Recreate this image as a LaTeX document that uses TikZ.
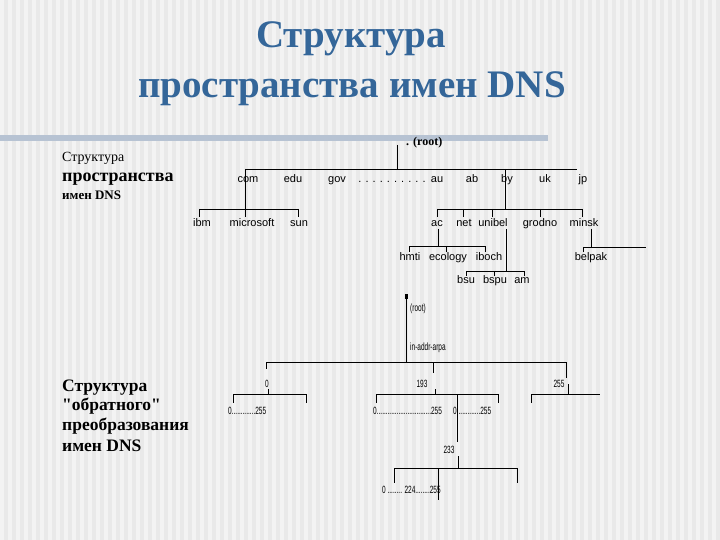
\documentclass[tikz,border=0pt]{standalone}
\usepackage{fontspec}
\setmainfont{Liberation Serif}
\newfontfamily\qserif{Liberation Serif}
\newfontfamily\sansf{Liberation Sans}
\definecolor{titleblue}{RGB}{52,102,153}
\definecolor{bgA}{RGB}{233,233,233}
\definecolor{bgB}{RGB}{243,243,243}
\definecolor{barc}{RGB}{183,195,211}
\newcommand{\cnd}[1]{\scalebox{0.62}[1]{#1}}
\tikzset{
  titletxt/.style={inner sep=0pt, anchor=base, text=titleblue, font=\bfseries\fontsize{39}{44}\selectfont},
  sidetxt/.style={inner sep=0pt, anchor=base west},
  tlab/.style={inner sep=0pt, anchor=base, font=\sansf\fontsize{11}{12}\selectfont},
  blab/.style={inner sep=0pt, anchor=base west, font=\sansf\fontsize{10.5}{11}\selectfont},
  bclab/.style={inner sep=0pt, anchor=base, font=\sansf\fontsize{10.5}{11}\selectfont},
  ln/.style={line width=0.8pt, black},
}
\begin{document}
\begin{tikzpicture}[x=1pt,y=-1pt]
% background
\fill[bgA] (0,0) rectangle (720,540);
\foreach \i in {0,...,89} \fill[bgB] (\i*8,0) rectangle ++(4,540);
\useasboundingbox (0,0) rectangle (720,540);
% title
\node[titletxt] (t1) at (351,48) {Структура};
\node[titletxt] (t2) at (352,98) {пространства имен DNS};
\fill[barc] (0,135) rectangle (548,141);
% left captions
\node[sidetxt, font=\fontsize{14}{16}\selectfont] (s1) at (62,162) {Структура};
\node[sidetxt, font=\bfseries\fontsize{18}{20}\selectfont] (s2) at (62,182) {пространства};
\node[sidetxt, font=\bfseries\fontsize{13}{15}\selectfont] (s3) at (62,200) {имен DNS};
\node[sidetxt, font=\bfseries\fontsize{17.5}{20}\selectfont] (r1) at (62,391.5) {Структура};
\node[sidetxt, font=\qserif\bfseries\fontsize{17.5}{20}\selectfont] (r2) at (62,410.5) {"обратного"};
\node[sidetxt, font=\bfseries\fontsize{17.5}{20}\selectfont] (r3) at (62,430.5) {преобразования};
\node[sidetxt, font=\bfseries\fontsize{17.5}{20}\selectfont] (r4) at (62,451.5) {имен DNS};
% ---------- forward tree ----------
\node[tlab, anchor=base west, font=\bfseries\fontsize{12}{13}\selectfont] (root) at (406,146) {. (root)};
\node[tlab] (com) at (248,182.5) {com};
\node[tlab] (edu) at (293,182.5) {edu};
\node[tlab] (gov) at (337,182.5) {gov};
\node[tlab] (dots) at (392,182.5) {. . . . . . . . . .};
\node[tlab] (au) at (437,182.5) {au};
\node[tlab] (ab) at (472,182.5) {ab};
\node[tlab] (by) at (507,182.5) {by};
\node[tlab] (uk) at (545,182.5) {uk};
\node[tlab] (jp) at (583,182.5) {jp};
\node[tlab] (ibm) at (202,226) {ibm};
\node[tlab] (microsoft) at (252,226) {microsoft};
\node[tlab] (sun) at (299,226) {sun};
\node[tlab] (ac) at (437,226) {ac};
\node[tlab] (net) at (464,226) {net};
\node[tlab] (unibel) at (493,226) {unibel};
\node[tlab] (grodno) at (540,226) {grodno};
\node[tlab] (minsk) at (584,226) {minsk};
\node[tlab] (hmti) at (410,260) {hmti};
\node[tlab] (ecology) at (448,260) {ecology};
\node[tlab] (iboch) at (489,260) {iboch};
\node[tlab] (belpak) at (591,260.5) {belpak};
\node[tlab] (bsu) at (466,283) {bsu};
\node[tlab] (bspu) at (495,283) {bspu};
\node[tlab] (am) at (522,283) {am};
\begin{scope}[ln]
\draw (397,145) -- (397,169);
\draw (245,169) -- (577,169);
\draw (245,169) -- (245,217);
\draw (505,169) -- (505,209);
\draw (199,209) -- (298,209);
\foreach \x in {199,298} \draw (\x,209) -- (\x,217);
\draw (437,209) -- (582,209);
\foreach \x in {437,463,492,540,582} \draw (\x,209) -- (\x,217);
\draw (438,229) -- (438,246);
\draw (409,246) -- (485,246);
\foreach \x in {409,446,485} \draw (\x,246) -- (\x,252);
\draw (506,229) -- (506,271);
\draw (466,271) -- (524,271);
\foreach \x in {466,494,524} \draw (\x,271) -- (\x,276);
\draw (591,229) -- (591,247);
\draw (583,247) -- (646,247);
\draw (583,247) -- (583,252);
\end{scope}
% ---------- reverse tree ----------
\fill (404.5,293.5) rectangle (407.5,298.5);
\coordinate (rdot) at (406,296);
\node[blab] (rroot) at (410,311) {\cnd{(root)}};
\node[blab] (arpa) at (410,350) {\cnd{in-addr-arpa}};
\node[bclab] (n0) at (267,387) {\cnd{0}};
\node[bclab] (n193) at (422,387) {\cnd{193}};
\node[bclab] (n255) at (559,387) {\cnd{255}};
\node[blab] (g1) at (228,414) {\cnd{0.............255}};
\node[blab] (g2) at (373,414) {\cnd{0..............................255}};
\node[blab] (g3) at (453,414) {\cnd{0.............255}};
\node[bclab] (n233) at (449,453) {\cnd{233}};
\node[blab] (g4) at (382,493) {\cnd{0 ........ 224........255}};
\begin{scope}[ln]
\draw (rdot) -- (406,362);
\draw (266,362) -- (566,362);
\draw (266,362) -- (266,369);
\draw (433,362) -- (433,373);
\draw (566,362) -- (566,378);
\draw (268,389) -- (268,394);
\draw (435,389) -- (435,394);
\draw (568,384) -- (568,394);
\draw (233,394) -- (306,394);
\draw (376,394) -- (498,394);
\draw (531,394) -- (600,394);
\foreach \x in {233,306,376,498,531} \draw (\x,394) -- (\x,403);
\draw (457,394) -- (457,442);
\draw (458,456) -- (458,468);
\draw (394,468) -- (517,468);
\foreach \x in {394,517} \draw (\x,468) -- (\x,483);
\draw (438,468) -- (438,500);
\end{scope}
\end{tikzpicture}
\end{document}
